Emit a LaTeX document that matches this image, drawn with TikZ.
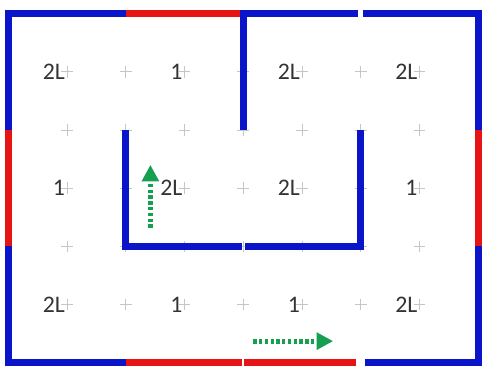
\documentclass[tikz,border=0pt]{standalone}
\usepackage{fontspec}
\setmainfont{Carlito}
\usepackage{xcolor}
\usetikzlibrary{arrows.meta}

\definecolor{wallblue}{RGB}{10,20,200}
\definecolor{wallred}{RGB}{230,20,20}
\definecolor{stepgreen}{RGB}{20,160,80}

\tikzset{
	wall/.style={line width=3.2pt, line join=miter, line cap=butt},
	bwall/.style={wall, wallblue},
	rwall/.style={wall, wallred},
	gridmark/.style={gray!45, line width=0.35pt},
	cellval/.style={anchor=east, inner sep=0pt, text=black!80, font=\fontsize{11.5}{13}\selectfont},
	move/.style={stepgreen, line width=2.4pt, dash pattern=on 1.6pt off 1.2pt, -{Triangle[length=8pt,width=8pt]}}
}

\begin{document}
\begin{tikzpicture}[x=1cm, y=-0.99cm]
		\useasboundingbox (-1.14,-1.235) rectangle (7.115,5.18);
		
		% faint grid marks
		\foreach \c in {0,...,6}
			\foreach \r in {0,...,4}
				\draw[gridmark] (\c-0.1,\r) -- (\c+0.1,\r) (\c,\r-0.1) -- (\c,\r+0.1);
		
		% cell values
		\foreach \c/\r/\t in {0/0/2L, 2/0/1, 4/0/2L, 6/0/2L,
			0/2/1, 2/2/2L, 4/2/2L, 6/2/1,
			0/4/2L, 2/4/1, 4/4/1, 6/4/2L}
			\node[cellval] (v\c\r) at (\c-0.03,\r) {\t};
		
		% outer walls
		\draw[bwall] (-1,1) -- (-1,-1) -- (1,-1);
		\draw[rwall] (1,-1) -- (3,-1);
		\draw[bwall] (3,1) -- (3,-1) -- (4.96,-1);
		\draw[bwall] (5.04,-1) -- (7,-1) -- (7,1);
		\draw[rwall] (7,1) -- (7,3);
		\draw[bwall] (7,3) -- (7,5) -- (5.08,5);
		\draw[rwall] (4.92,5) -- (3.02,5);
		\draw[rwall] (2.98,5) -- (1,5);
		\draw[bwall] (1,5) -- (-1,5) -- (-1,3);
		\draw[rwall] (-1,3) -- (-1,1);
		
		% inner walls
		\draw[bwall] (1,1) -- (1,3) -- (2.98,3);
		\draw[bwall] (3.03,3) -- (5,3) -- (5,1);
		
		% moves
		\draw[move] (1.42,2.68) -- (1.42,1.6);
		\draw[move] (3.17,4.63) -- (4.53,4.63);
	\end{tikzpicture}
\end{document}
